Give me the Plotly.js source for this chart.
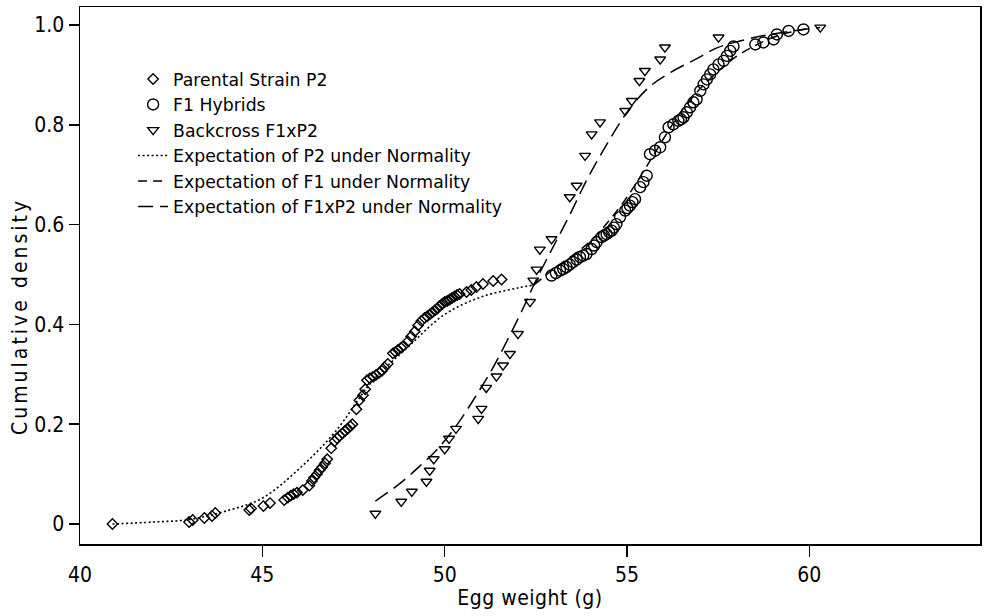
<!DOCTYPE html>
<html><head><meta charset="utf-8">
<script src="https://cdn.plot.ly/plotly-3.0.1.min.js"></script>
<style>
html,body{margin:0;padding:0;background:#fff}
#chart{width:989px;height:616px}
#chart .xtitle{letter-spacing:0.5px}
#chart .annotation-text{letter-spacing:3px}
</style>
</head><body><div id="chart"></div>
<script>
// Parental strain P2 (diamonds)
const p2X = [40.89,42.99,43.09,43.41,43.62,43.71,44.64,44.69,45.03,45.21,45.60,45.70,45.78,45.86,45.95,46.11,46.29,46.36,46.42,46.50,46.57,46.64,46.72,46.78,46.89,46.98,47.05,47.12,47.20,47.27,47.34,47.41,47.47,47.58,47.66,47.76,47.82,47.87,47.95,48.04,48.12,48.20,48.28,48.35,48.44,48.58,48.65,48.72,48.80,48.87,48.99,49.08,49.18,49.27,49.36,49.45,49.52,49.59,49.66,49.73,49.80,49.86,49.93,50.00,50.07,50.14,50.20,50.27,50.34,50.41,50.60,50.73,50.87,51.05,51.33,51.56];
const p2Y = [0.000,0.004,0.008,0.012,0.016,0.022,0.028,0.031,0.036,0.042,0.048,0.053,0.057,0.060,0.063,0.068,0.077,0.086,0.093,0.100,0.108,0.114,0.122,0.130,0.152,0.166,0.172,0.177,0.182,0.187,0.191,0.196,0.200,0.230,0.248,0.258,0.270,0.288,0.292,0.295,0.299,0.303,0.307,0.314,0.321,0.342,0.345,0.349,0.353,0.357,0.366,0.376,0.386,0.398,0.407,0.413,0.416,0.420,0.424,0.428,0.432,0.437,0.441,0.445,0.447,0.450,0.453,0.456,0.459,0.461,0.465,0.469,0.475,0.481,0.487,0.490];
// F1 hybrids (circles)
const f1X = [52.93,53.05,53.16,53.25,53.34,53.43,53.52,53.62,53.71,53.80,53.89,54.03,54.10,54.17,54.30,54.37,54.44,54.51,54.58,54.64,54.71,54.81,54.95,55.01,55.08,55.15,55.22,55.36,55.45,55.54,55.63,55.77,55.91,56.04,56.14,56.27,56.41,56.48,56.55,56.64,56.73,56.82,56.91,57.01,57.10,57.19,57.28,57.37,57.51,57.65,57.74,57.83,57.92,58.52,58.74,59.02,59.11,59.43,59.84];
const f1Y = [0.498,0.503,0.508,0.511,0.515,0.520,0.525,0.530,0.535,0.538,0.541,0.551,0.558,0.565,0.575,0.578,0.581,0.585,0.588,0.594,0.601,0.615,0.628,0.633,0.638,0.645,0.651,0.675,0.685,0.698,0.741,0.748,0.755,0.775,0.795,0.801,0.808,0.811,0.815,0.825,0.835,0.845,0.851,0.868,0.881,0.891,0.901,0.911,0.921,0.928,0.938,0.948,0.957,0.961,0.965,0.971,0.981,0.988,0.991];
// Backcross F1xP2 (triangles)
const bcX = [48.10,48.81,49.10,49.50,49.59,49.70,50.00,50.12,50.31,50.92,51.01,51.14,51.42,51.60,51.79,52.01,52.34,52.43,52.52,52.61,52.93,53.43,53.62,53.85,54.03,54.26,54.95,55.13,55.34,55.49,55.91,56.04,57.51,60.30];
const bcY = [0.021,0.045,0.065,0.085,0.107,0.130,0.150,0.171,0.191,0.211,0.231,0.273,0.296,0.318,0.341,0.381,0.445,0.488,0.510,0.550,0.571,0.655,0.678,0.738,0.781,0.805,0.828,0.848,0.888,0.908,0.931,0.955,0.975,0.995];
// Expectation curves
const expP2X = [40.89,42.0,43.0,44.0,45.0,46.0,47.0,48.0,49.0,50.0,51.0,52.0,52.45];
const expP2Y = [0.000,0.004,0.009,0.026,0.052,0.110,0.185,0.285,0.355,0.420,0.455,0.473,0.479];
const expF1X = [52.45,53.0,53.5,54.0,54.5,55.0,55.5,56.0,56.5,57.0,57.5,58.0,58.5,59.0,59.5,60.0];
const expF1Y = [0.479,0.512,0.538,0.567,0.607,0.655,0.712,0.772,0.828,0.872,0.907,0.937,0.958,0.975,0.986,0.993];
const expBcX = [48.10,48.75,49.30,49.80,50.30,50.80,51.30,51.80,52.20,52.45,52.90,53.40,53.90,54.40,55.00,55.60,56.20,56.90,57.50,58.10,59.00,60.30];
const expBcY = [0.046,0.080,0.115,0.150,0.195,0.250,0.310,0.380,0.440,0.480,0.545,0.615,0.690,0.755,0.825,0.875,0.905,0.932,0.955,0.968,0.982,0.995];

const legendNames = ['Parental Strain P2','F1 Hybrids','Backcross F1xP2','Expectation of P2 under Normality','Expectation of F1 under Normality','Expectation of F1xP2 under Normality'];
const xTicks = [40,45,50,55,60];
const xTickMarks = [45,50,55,60];
const yTicks = [0,0.2,0.4,0.6,0.8,1.0];
const yTickText = ['0','0.2','0.4','0.6','0.8','1.0'];
const xTitle = 'Egg weight (g)';
const yTitle = 'Cumulative density';

const mline = {color:'#000', width:1.4};
const traces = [
  {x:expP2X, y:expP2Y, mode:'lines', name:legendNames[3], legendgroup:'d', legendrank:4, line:{color:'#000', width:1.6, dash:'2px,2.5px', shape:'spline'}},
  {x:expF1X, y:expF1Y, mode:'lines', name:legendNames[4], legendgroup:'e', legendrank:5, line:{color:'#000', width:1.5, dash:'9px,6px', shape:'spline'}},
  {x:expBcX, y:expBcY, mode:'lines', name:legendNames[5], legendgroup:'f', legendrank:6, line:{color:'#000', width:1.5, dash:'15px,7px', shape:'spline'}},
  {x:p2X, y:p2Y, mode:'markers', name:legendNames[0], legendgroup:'a', legendrank:1, marker:{symbol:'diamond-open', size:8, color:'#000', line:mline}},
  {x:f1X, y:f1Y, mode:'markers', name:legendNames[1], legendgroup:'b', legendrank:2, marker:{symbol:'circle-open', size:11, color:'#000', line:mline}},
  {x:bcX, y:bcY, mode:'markers', name:legendNames[2], legendgroup:'c', legendrank:3, marker:{symbol:'triangle-down-open', size:9.5, color:'#000', line:mline}}
];

const tickFont = {family:'"Liberation Sans Narrow", "DejaVu Sans Condensed", sans-serif', size:21, color:'#000'};
const layout = {
  width:989, height:616,
  margin:{l:80, r:9, t:7, b:72},
  paper_bgcolor:'#fff', plot_bgcolor:'#fff',
  showlegend:true,
  legend:{x:0.059, y:0.899, xanchor:'left', yanchor:'top', bgcolor:'rgba(0,0,0,0)', borderwidth:0,
          font:{family:'"DejaVu Sans", sans-serif', size:17.3, color:'#000'}, tracegroupgap:0, itemwidth:30},
  xaxis:{range:[40,64.68], tickvals:xTicks, ticktext:xTicks.map(String), ticks:'', 
         minor:{tickvals:xTickMarks, ticks:'outside', ticklen:11, tickwidth:1.5, tickcolor:'#000', showgrid:false},
         showline:true, linecolor:'#000', linewidth:1.5, mirror:true, showgrid:false, zeroline:false,
         tickfont:tickFont, ticklabelstandoff:11, title:{text:xTitle, font:tickFont, standoff:4}},
  yaxis:{range:[-0.040,1.036], tickvals:yTicks, ticktext:yTickText, ticks:'outside', ticklen:10, tickwidth:1.5, tickcolor:'#000',
         showline:true, linecolor:'#000', linewidth:1.5, mirror:true, showgrid:false, zeroline:false,
         tickfont:tickFont},
  annotations:[{text:yTitle, xref:'paper', yref:'paper', x:-0.0667, y:0.4246, xanchor:'center', yanchor:'middle',
                textangle:-90, showarrow:false, font:tickFont}]
};
Plotly.newPlot('chart', traces, layout, {displayModeBar:false, staticPlot:true});
</script>
</body></html>
